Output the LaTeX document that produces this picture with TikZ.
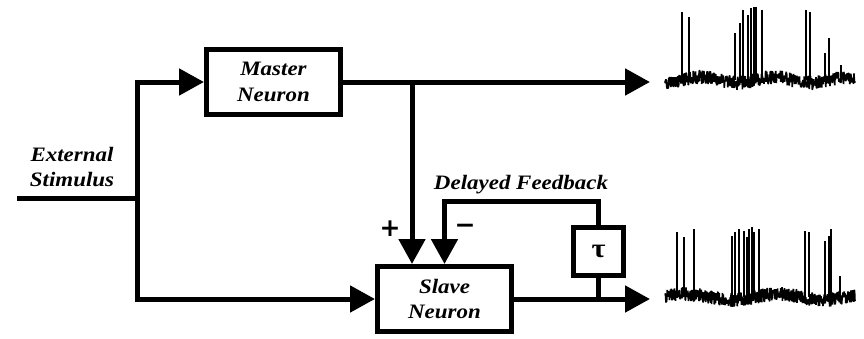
\documentclass[tikz,border=0pt]{standalone}
\usepackage{fontspec}
\setmainfont{Liberation Serif}[FakeStretch=1.12]
\newfontfamily\signfont{DejaVu Sans}
\usetikzlibrary{arrows.meta, calc}

\begin{document}
\begin{tikzpicture}[
        x=1pt, y=-1pt,
        block/.style={draw, line width=5pt, align=center, minimum width=134pt, minimum height=65pt, font=\lblfont},
        delaybox/.style={draw, line width=5pt, minimum width=50pt, minimum height=48pt, font=\fontsize{27}{30}\selectfont\bfseries},
        line/.style={line width=5pt},
        arr/.style={line, -{Triangle[length=25pt, width=26pt]}},
        lbl/.style={font=\lblfont, align=center, inner sep=0pt},
        sign/.style={font=\signfont\fontsize{25}{28}\selectfont\bfseries, inner sep=0pt},
        trace/.style={line width=1.6pt, line join=bevel},
        spike/.style={line width=1.2pt}
    ]
        \providecommand\lblfont{\fontsize{20.5}{25.5}\selectfont\bfseries\itshape}
        \useasboundingbox (0,0) rectangle (864,338);

        % -- blocks --
        \node[block] (master) at (273.5, 82)  {Master\\Neuron};
        \node[block] (slave)  at (444.5, 299) {Slave\\Neuron};
        \node[delaybox] (tau) at (598.5, 251.5) {τ};

        % -- labels --
        \node[lbl] (stimtxt) at (72, 167)  {External\\Stimulus};
        \node[lbl] (fbtxt)   at (521, 185) {Delayed Feedback};
        \node[sign] (plus)   at (390, 229) {+};
        \node[sign] (minus)  at (465, 229) {−};

        % -- helper points --
        \coordinate (stim)  at (17, 198);
        \coordinate (split) at (137, 198);
        \coordinate (tap)   at (412, 82);
        \coordinate (fbtop) at (598.5, 201);
        \coordinate (out1)  at (650, 82);
        \coordinate (out2)  at (650, 299);

        % input split
        \draw[line] (stim) -- (split);
        \draw[arr]  (split) |- (master.west);
        \draw[arr]  (split) |- (slave.west);

        % master output, excitatory drive into slave
        \draw[arr] (master.east) -- (out1);
        \draw[arr] (tap) -- (tap |- slave.north);

        % slave output and delayed feedback loop
        \draw[arr]  (slave.east) -- (out2);
        \draw[line] (tau.south) -- (tau.south |- slave.east);
        \draw[arr]  (tau.north) -- (fbtop) -| (slave.north);

        % -- spike traces --
        \pgfmathsetseed{11}
        \draw[trace] plot[domain=665:855, samples=600] (\x, {80+3*sin(\x*5)+7*rand});
        \foreach \sx/\sy in {682/12, 689/17, 735/33, 740/23, 743/10, 748/15, 751/8, 754/7,
                             756/7, 762/10, 806/10, 810/12, 825/53, 829/38, 841/65}
            \draw[spike] (\sx, 80) -- (\sx, \sy);

        \pgfmathsetseed{23}
        \draw[trace] plot[domain=665:855, samples=600] (\x, {297+3*sin(\x*4+40)+7*rand});
        \foreach \sx/\sy in {677/232, 684/237, 694/229, 732/236, 735/232, 739/229, 744/231,
                             747/237, 749/229, 752/227, 754/232, 759/229, 805/231, 809/232,
                             825/241, 829/236, 831/229, 840/276}
            \draw[spike] (\sx, 297) -- (\sx, \sy);
    \end{tikzpicture}
\end{document}
